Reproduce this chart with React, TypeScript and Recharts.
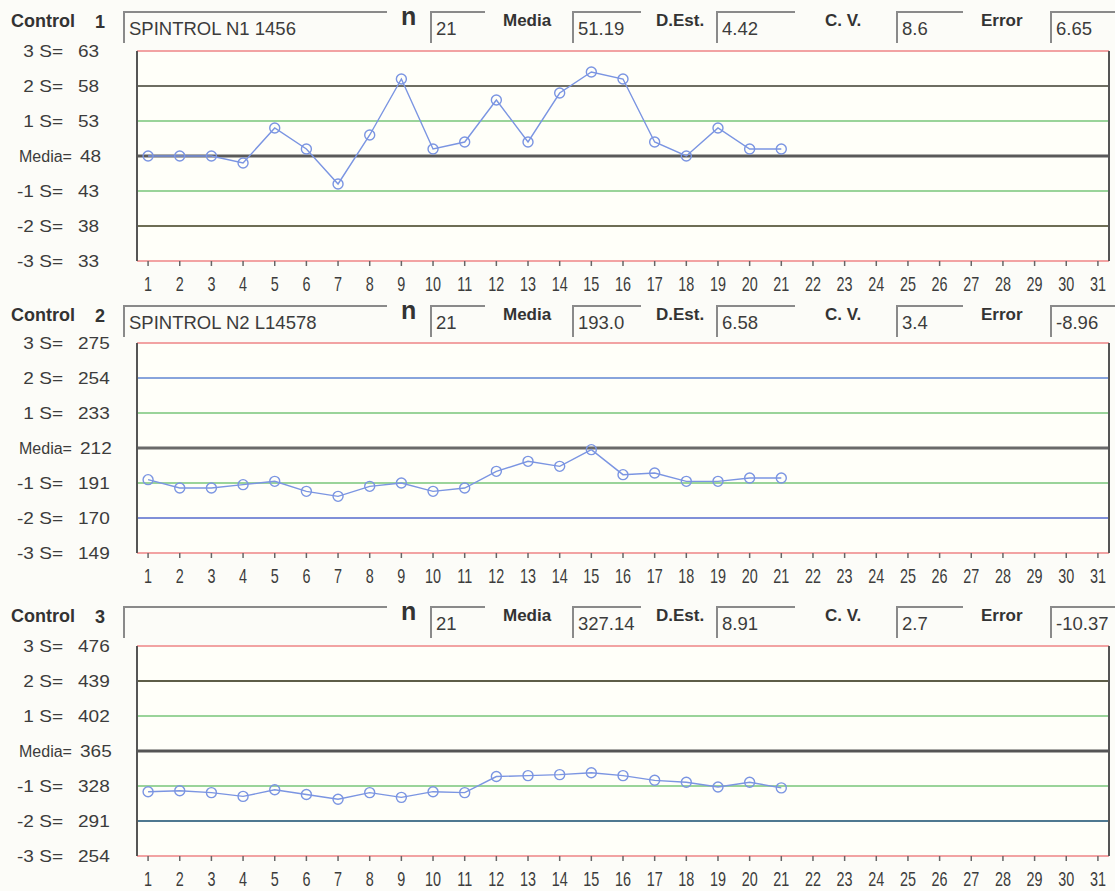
import React from "react";
import { CartesianGrid, Line, LineChart, ReferenceLine, XAxis, YAxis } from "recharts";

const dayTicks = [1, 2, 3, 4, 5, 6, 7, 8, 9, 10, 11, 12, 13, 14, 15, 16, 17, 18, 19, 20, 21, 22, 23, 24, 25, 26, 27, 28, 29, 30, 31];
const runDays = [1, 2, 3, 4, 5, 6, 7, 8, 9, 10, 11, 12, 13, 14, 15, 16, 17, 18, 19, 20, 21];

const levelLabels = ["3 S=", "2 S=", "1 S=", "Media=", "-1 S=", "-2 S=", "-3 S="];

const control1Levels = [63, 58, 53, 48, 43, 38, 33];
const control2Levels = [275, 254, 233, 212, 191, 170, 149];
const control3Levels = [476, 439, 402, 365, 328, 291, 254];

const control1Values = [48, 48, 48, 47, 52, 49, 44, 51, 59, 49, 50, 56, 50, 57, 60, 59, 50, 48, 52, 49, 49];
const control2Values = [193, 188, 188, 190, 192, 186, 183, 189, 191, 186, 188, 198, 204, 201, 211, 196, 197, 192, 192, 194, 194];
const control3Values = [322, 323, 321, 317, 324, 319, 314, 321, 316, 322, 321, 338, 339, 340, 342, 339, 334, 332, 327, 332, 326];

const controlNames = ["SPINTROL N1 1456", "SPINTROL N2 L14578", ""];
const nValues = ["21", "21", "21"];
const mediaValues = ["51.19", "193.0", "327.14"];
const dEstValues = ["4.42", "6.58", "8.91"];
const cvValues = ["8.6", "3.4", "2.7"];
const errorValues = ["6.65", "-8.96", "-10.37"];

// line colour for each level, top to bottom
const control1Colors = ["#f2a3a3", "#6e6e62", "#9ad49a", "#5a5a5a", "#9ad49a", "#6e6e55", "#f2a3a3"];
const control2Colors = ["#f2a3a3", "#88a4dc", "#9ad49a", "#6a6a6a", "#9ad49a", "#8090d8", "#f2a3a3"];
const control3Colors = ["#f2a3a3", "#5e5e48", "#9ad49a", "#555555", "#9ad49a", "#4f7890", "#f2a3a3"];

const X_MIN = 0.65;
const X_MAX = 31.35;

const FONT = "Arial, 'Liberation Sans', sans-serif";
const LINE_BLUE = "#7b95e2";
const TEXT = "#3c3c3c";

type PanelProps = {
  idx: number;
  headerTop: number;
  plotTop: number;
  levels: number[];
  colors: string[];
  values: number[];
};

function XTick(props: any) {
  const { x, y, payload } = props;
  return (
    <g transform={`translate(${x},${y})`}>
      <text transform="scale(0.72,1)" y={23} textAnchor="middle" fontFamily={FONT} fontSize={20} fill={TEXT}>
        {payload.value}
      </text>
    </g>
  );
}

function makeYTick(levels: number[]) {
  return function YTick(props: any) {
    const { y, payload } = props;
    const i = levels.indexOf(payload.value);
    const isMean = i === 3;
    return (
      <g>
        <g transform={`translate(${isMean ? 19 : 63},${y + 6}) scale(${isMean ? 1 : 1.12},1)`}>
          <text textAnchor={isMean ? "start" : "end"} fontFamily={FONT} fontSize={isMean ? 16 : 17} fill={TEXT}>
            {levelLabels[i]}
          </text>
        </g>
        <g transform={`translate(${isMean ? 80 : 78},${y + 6}) scale(1.12,1)`}>
          <text fontFamily={FONT} fontSize={17} fill={TEXT}>
            {payload.value}
          </text>
        </g>
      </g>
    );
  };
}

const labelStyle: React.CSSProperties = {
  position: "absolute",
  fontFamily: FONT,
  fontWeight: 700,
  fontSize: 17,
  color: "#333",
  whiteSpace: "nowrap",
  lineHeight: "18px",
};

function Box({ left, width, top, text }: { left: number; width: number; top: number; text: string }) {
  return (
    <div
      style={{
        position: "absolute",
        left,
        top,
        width,
        height: 32,
        borderTop: "2px solid #8a8a8a",
        borderLeft: "2px solid #8a8a8a",
        fontFamily: FONT,
        fontSize: 18.5,
        color: TEXT,
        paddingLeft: 4,
        paddingTop: 5,
        boxSizing: "border-box",
        whiteSpace: "nowrap",
        overflow: "hidden",
      }}
    >
      {text}
    </div>
  );
}

function Header({ idx, top }: { idx: number; top: number }) {
  return (
    <>
      <div style={{ ...labelStyle, left: 11, top: top + 1, fontSize: 18 }}>Control</div>
      <div style={{ ...labelStyle, left: 95, top: top + 2, fontSize: 18 }}>{idx + 1}</div>
      <Box left={123} width={264} top={top} text={controlNames[idx]} />
      <div style={{ ...labelStyle, left: 401, top: top - 4, fontSize: 25 }}>n</div>
      <Box left={430} width={55} top={top} text={nValues[idx]} />
      <div style={{ ...labelStyle, left: 503, top: top + 1 }}>Media</div>
      <Box left={572} width={69} top={top} text={mediaValues[idx]} />
      <div style={{ ...labelStyle, left: 656, top: top + 1 }}>D.Est.</div>
      <Box left={716} width={79} top={top} text={dEstValues[idx]} />
      <div style={{ ...labelStyle, left: 825, top: top + 1 }}>C. V.</div>
      <Box left={896} width={67} top={top} text={cvValues[idx]} />
      <div style={{ ...labelStyle, left: 981, top: top + 1 }}>Error</div>
      <Box left={1050} width={70} top={top} text={errorValues[idx]} />
    </>
  );
}

function Panel({ idx, headerTop, plotTop, levels, colors, values }: PanelProps) {
  const data = runDays.map((d, i) => ({ day: d, value: values[i] }));
  const svgTop = plotTop - 11;
  return (
    <>
      <Header idx={idx} top={headerTop} />
      <div style={{ position: "absolute", left: 0, top: svgTop }}>
        <LineChart width={1115} height={255} data={data} margin={{ top: 11, right: 6, left: 0, bottom: 0 }}>
          <CartesianGrid horizontal={false} vertical={false} fill="#fffff9" />
          <XAxis
            dataKey="day"
            type="number"
            domain={[X_MIN, X_MAX]}
            ticks={dayTicks}
            interval={0}
            axisLine={false}
            tickLine={{ stroke: "#666", strokeWidth: 1.5 }}
            tickSize={5}
            height={34}
            tick={<XTick />}
          />
          <YAxis
            type="number"
            domain={[levels[6], levels[0]]}
            ticks={levels}
            interval={0}
            width={137}
            axisLine={{ stroke: "#555", strokeWidth: 2 }}
            tickLine={false}
            tick={makeYTick(levels)}
          />
          {levels.map((lv, i) => (
            <ReferenceLine key={lv} y={lv} stroke={colors[i]} strokeWidth={i === 3 ? 3 : 2} />
          ))}
          <ReferenceLine x={X_MAX} stroke="#555" strokeWidth={2} />
          <Line
            type="linear"
            dataKey="value"
            stroke={LINE_BLUE}
            strokeWidth={1.4}
            dot={{ r: 5, stroke: LINE_BLUE, strokeWidth: 1.4, fill: "none" }}
            isAnimationActive={false}
          />
        </LineChart>
      </div>
    </>
  );
}

export default function App() {
  return (
    <div
      style={{
        position: "absolute",
        left: 0,
        top: 0,
        width: 1115,
        height: 891,
        background: "#fcfcf8",
        overflow: "hidden",
      }}
    >
      <Panel idx={0} headerTop={11} plotTop={51} levels={control1Levels} colors={control1Colors} values={control1Values} />
      <Panel idx={1} headerTop={305} plotTop={343} levels={control2Levels} colors={control2Colors} values={control2Values} />
      <Panel idx={2} headerTop={606} plotTop={646} levels={control3Levels} colors={control3Colors} values={control3Values} />
    </div>
  );
}
